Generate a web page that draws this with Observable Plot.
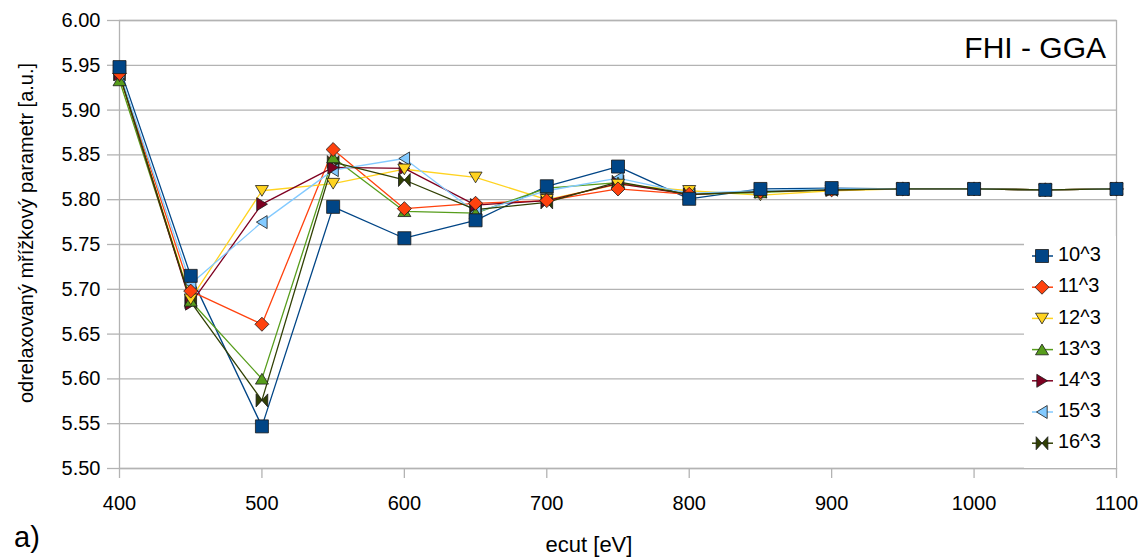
<!DOCTYPE html>
<html>
<head>
<meta charset="utf-8">
<script src="https://cdn.jsdelivr.net/npm/d3@7"></script>
<script src="https://cdn.jsdelivr.net/npm/@observablehq/plot@0.6"></script>
<style>
  html, body { margin: 0; padding: 0; background: #fff; }
  #chart { position: relative; width: 1143px; height: 558px; }
  svg { font-family: "Liberation Sans", Arial, sans-serif; }
</style>
</head>
<body>
<div id="chart"></div>
<script>
// ---- data ----
const ecut = [400, 450, 500, 550, 600, 650, 700, 750, 800, 850, 900, 950, 1000, 1050, 1100];
const seriesNames = ["10^3", "11^3", "12^3", "13^3", "14^3", "15^3", "16^3"];
const s10 = [5.948, 5.715, 5.547, 5.792, 5.757, 5.777, 5.815, 5.837, 5.801, 5.812, 5.813, 5.812, 5.812, 5.811, 5.812];
const s11 = [5.941, 5.698, 5.661, 5.856, 5.790, 5.796, 5.799, 5.812, 5.806, 5.809, 5.811, 5.812, 5.812, 5.811, 5.812];
const s12 = [5.938, 5.689, 5.810, 5.818, 5.834, 5.825, 5.800, 5.817, 5.810, 5.805, 5.810, 5.812, 5.812, 5.811, 5.812];
const s13 = [5.933, 5.687, 5.600, 5.847, 5.787, 5.785, 5.813, 5.819, 5.806, 5.808, 5.811, 5.812, 5.812, 5.811, 5.812];
const s14 = [5.940, 5.684, 5.795, 5.836, 5.835, 5.794, 5.799, 5.818, 5.806, 5.809, 5.811, 5.812, 5.812, 5.811, 5.812];
const s15 = [5.942, 5.706, 5.775, 5.833, 5.846, 5.786, 5.810, 5.824, 5.807, 5.810, 5.812, 5.812, 5.812, 5.811, 5.812];
const s16 = [5.940, 5.686, 5.576, 5.842, 5.822, 5.789, 5.797, 5.820, 5.806, 5.809, 5.811, 5.812, 5.812, 5.811, 5.812];
const allSeries = [s10, s11, s12, s13, s14, s15, s16];
const yTicks = [5.50, 5.55, 5.60, 5.65, 5.70, 5.75, 5.80, 5.85, 5.90, 5.95, 6.00];
const xTicks = [400, 500, 600, 700, 800, 900, 1000, 1100];
const colors = ["#004586", "#ff420e", "#ffd320", "#579d1c", "#7e0021", "#83caff", "#314004"];

// ---- marker shapes ----
function sym(fn) { return { draw(ctx, size) { fn(ctx, Math.sqrt(size / Math.PI)); } }; }
const symbols = [
  sym((c, r) => { c.moveTo(-r, -r); c.lineTo(r, -r); c.lineTo(r, r); c.lineTo(-r, r); c.closePath(); }),
  sym((c, r) => { const d = r * 1.08; c.moveTo(0, -d); c.lineTo(d, 0); c.lineTo(0, d); c.lineTo(-d, 0); c.closePath(); }),
  sym((c, r) => { c.moveTo(-r, -r * 0.8); c.lineTo(r, -r * 0.8); c.lineTo(0, r * 0.85); c.closePath(); }),
  sym((c, r) => { c.moveTo(-r, r * 0.8); c.lineTo(r, r * 0.8); c.lineTo(0, -r * 0.85); c.closePath(); }),
  sym((c, r) => { c.moveTo(-r * 0.8, -r); c.lineTo(-r * 0.8, r); c.lineTo(r * 0.85, 0); c.closePath(); }),
  sym((c, r) => { c.moveTo(r * 0.8, -r); c.lineTo(r * 0.8, r); c.lineTo(-r * 0.85, 0); c.closePath(); }),
  sym((c, r) => { c.moveTo(-r * 0.9, -r); c.lineTo(r * 0.9, r); c.lineTo(r * 0.9, -r); c.lineTo(-r * 0.9, r); c.closePath(); })
];

const rows = [];
seriesNames.forEach((name, i) => {
  ecut.forEach((e, j) => rows.push({ series: name, idx: i, ecut: e, value: allSeries[i][j] }));
});

const gridColor = "#b3b3b3";
const lineMarks = seriesNames.map((name, i) =>
  Plot.line(rows.filter(d => d.idx === i), { x: "ecut", y: "value", stroke: colors[i], strokeWidth: 1.3 })
);
const dotMarks = seriesNames.map((name, i) => i).reverse().map(i =>
  Plot.dot(rows.filter(d => d.idx === i), {
    x: "ecut", y: "value", symbol: symbols[i], r: 6.5,
    fill: colors[i], stroke: "#1a1a1a", strokeWidth: 0.8
  })
);

const svg = Plot.plot({
  width: 1143,
  height: 558,
  marginLeft: 119,
  marginRight: 27,
  marginTop: 20,
  marginBottom: 90,
  style: { fontFamily: "'Liberation Sans', Arial, sans-serif", fontSize: "20px", color: "#000", background: "#fff" },
  x: { domain: [400, 1100], ticks: xTicks, label: null },
  y: { domain: [5.5, 6.0], ticks: yTicks, label: null },
  marks: [
    Plot.gridY(yTicks, { stroke: gridColor, strokeOpacity: 1, strokeWidth: 1.3 }),
    Plot.frame({ stroke: gridColor, strokeWidth: 1.3 }),
    Plot.axisX(xTicks, { tickSize: 10, tickPadding: 17, stroke: gridColor, strokeWidth: 1.3, tickFormat: d => String(d), fontSize: 20, fill: "#000" }),
    Plot.axisY(yTicks, { tickSize: 12, tickPadding: 7, stroke: gridColor, strokeWidth: 1.3, tickFormat: d => d.toFixed(2), fontSize: 20, fill: "#000" }),
    ...lineMarks,
    ...dotMarks
  ]
});
document.getElementById("chart").appendChild(svg);

// ---- annotations and legend ----
const s = d3.select(svg);
const ff = "'Liberation Sans', Arial, sans-serif";
s.append("text").attr("transform", "translate(28,233) rotate(-90)").attr("text-anchor", "middle")
  .attr("dominant-baseline", "middle").attr("font-size", 20).attr("font-family", ff).text("odrelaxovaný mřížkový parametr [a.u.]");
s.append("text").attr("x", 589).attr("y", 552).attr("text-anchor", "middle")
  .attr("font-size", 22).attr("font-family", ff).text("ecut [eV]");
s.append("text").attr("x", 14).attr("y", 547).attr("text-anchor", "start").attr("font-size", 29).attr("font-family", ff).text("a)");
s.append("text").attr("x", 1106).attr("y", 58).attr("text-anchor", "end")
  .attr("font-size", 30).attr("font-family", ff).text("FHI - GGA");

const lg = s.append("g");
lg.append("rect").attr("x", 1024).attr("y", 236).attr("width", 92).attr("height", 232)
  .attr("fill", "#fff").attr("stroke", "none");
seriesNames.forEach((name, i) => {
  const yy = 256 + i * 31.2;
  lg.append("line").attr("x1", 1032).attr("x2", 1053).attr("y1", yy).attr("y2", yy)
    .attr("stroke", colors[i]).attr("stroke-width", 1.5);
  lg.append("path").attr("transform", `translate(1042,${yy})`)
    .attr("d", d3.symbol(symbols[i], Math.PI * 6.5 * 6.5)())
    .attr("fill", colors[i]).attr("stroke", "#1a1a1a").attr("stroke-width", 0.8);
  lg.append("text").attr("x", 1058).attr("y", yy).attr("text-anchor", "start").attr("dominant-baseline", "middle")
    .attr("font-size", 20).attr("font-family", ff).text(name);
});
</script>
</body>
</html>
